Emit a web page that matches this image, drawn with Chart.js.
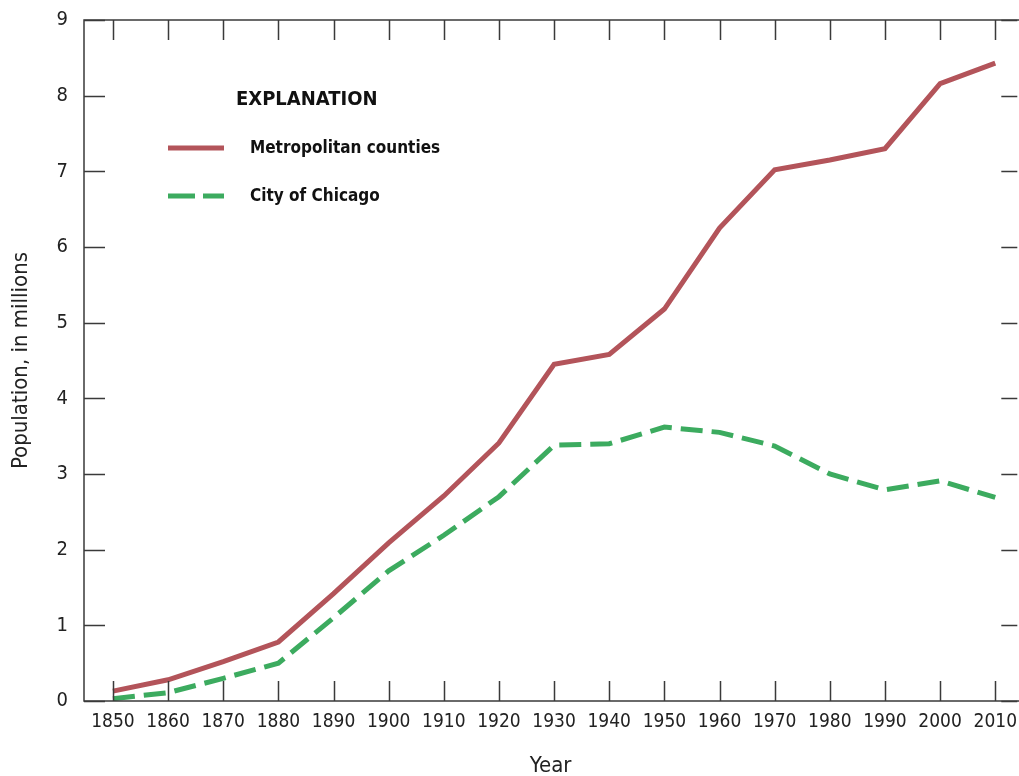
<!DOCTYPE html>
<html>
<head>
<meta charset="utf-8">
<script src="https://cdn.jsdelivr.net/npm/chart.js@4/dist/chart.umd.min.js"></script>
<style>
body{margin:0;background:#fff;}
#wrap{width:1019px;height:776px;position:relative;}
</style>
</head>
<body>
<div id="wrap"><canvas id="canvas" width="1019" height="776"></canvas></div>
<script>
const years=[1850,1860,1870,1880,1890,1900,1910,1920,1930,1940,1950,1960,1970,1980,1990,2000,2010];
const metro=[0.13,0.28,0.52,0.78,1.42,2.09,2.71,3.41,4.45,4.58,5.18,6.25,7.02,7.15,7.30,8.16,8.43];
const chicago=[0.03,0.11,0.30,0.50,1.10,1.72,2.19,2.70,3.38,3.40,3.62,3.55,3.37,3.00,2.79,2.91,2.69];
const seriesNames=["Metropolitan counties","City of Chicago"];
const yTicks=[0,1,2,3,4,5,6,7,8,9];
const legendTitle="EXPLANATION";

const FONT="'Liberation Sans Narrow','DejaVu Sans Condensed',sans-serif";
const RED="#b3545a";
const GREEN="#3cab5f";
const AXIS="#3a3a3a";
const TEXT="#222";

// frame, inward ticks and the explanation box
const framePlugin={
    id:"frame",
    afterDraw(chart){
        const c=chart.ctx;
        const a=chart.chartArea;
        const xs=chart.scales.x;
        const ys=chart.scales.y;
        c.save();
        c.strokeStyle=AXIS;
        c.lineWidth=1.5;
        c.beginPath();
        c.moveTo(a.right+2,a.top);
        c.lineTo(a.left,a.top);
        c.lineTo(a.left,a.bottom);
        c.lineTo(a.right+2,a.bottom);
        c.stroke();
        c.beginPath();
        years.forEach(y=>{
            const px=Math.round(xs.getPixelForValue(y))+0.5;
            c.moveTo(px,a.top);c.lineTo(px,a.top+20);
            c.moveTo(px,a.bottom);c.lineTo(px,a.bottom-20);
        });
        yTicks.forEach(v=>{
            const py=Math.round(ys.getPixelForValue(v))+0.5;
            c.moveTo(a.left,py);c.lineTo(a.left+21,py);
            c.moveTo(a.right-16,py);c.lineTo(a.right,py);
        });
        c.stroke();

        // legend
        c.fillStyle="#111";
        c.textBaseline="middle";
        c.font="bold 20px "+FONT;
        c.fillText(legendTitle,236,100);
        c.font="bold 17px "+FONT;
        const rows=[{y:148,color:RED,dash:[]},{y:196,color:GREEN,dash:[27,8]}];
        rows.forEach((r,i)=>{
            c.strokeStyle=r.color;
            c.lineWidth=5;
            c.setLineDash(r.dash);
            c.beginPath();
            c.moveTo(168,r.y);c.lineTo(224,r.y);
            c.stroke();
            c.setLineDash([]);
            c.fillText(seriesNames[i],250,r.y+1);
        });
        c.restore();
    }
};

new Chart(document.getElementById("canvas"),{
    type:"line",
    data:{
        datasets:[
            {label:seriesNames[0],data:years.map((y,i)=>({x:y,y:metro[i]})),borderColor:RED,borderWidth:5,pointRadius:0,tension:0,borderJoinStyle:"miter"},
            {label:seriesNames[1],data:years.map((y,i)=>({x:y,y:chicago[i]})),borderColor:GREEN,borderWidth:5,pointRadius:0,tension:0,borderDash:[22,9]}
        ]
    },
    options:{
        responsive:false,
        animation:false,
        layout:{padding:{top:9,right:-8,left:0,bottom:0}},
        plugins:{legend:{display:false},tooltip:{enabled:false}},
        scales:{
            x:{
                type:"linear",
                min:1844.75,
                max:2014,
                afterBuildTicks:s=>{s.ticks=years.map(v=>({value:v}));},
                afterFit:s=>{s.height=75;},
                grid:{display:false},
                border:{display:false},
                ticks:{color:TEXT,font:{family:FONT,size:19},padding:2,maxRotation:0,autoSkip:false,callback:v=>String(v)},
                title:{display:true,text:"Year",color:TEXT,font:{family:FONT,size:22},padding:{top:6,bottom:-3}}
            },
            y:{
                min:0,
                max:9,
                afterBuildTicks:s=>{s.ticks=yTicks.map(v=>({value:v}));},
                afterFit:s=>{s.width=84;},
                grid:{display:false},
                border:{display:false},
                ticks:{color:TEXT,font:{family:FONT,size:20},padding:8},
                title:{display:true,text:"Population, in millions",color:TEXT,font:{family:FONT,size:22},padding:{top:8,bottom:4}}
            }
        }
    },
    plugins:[framePlugin]
});
</script>
</body>
</html>
